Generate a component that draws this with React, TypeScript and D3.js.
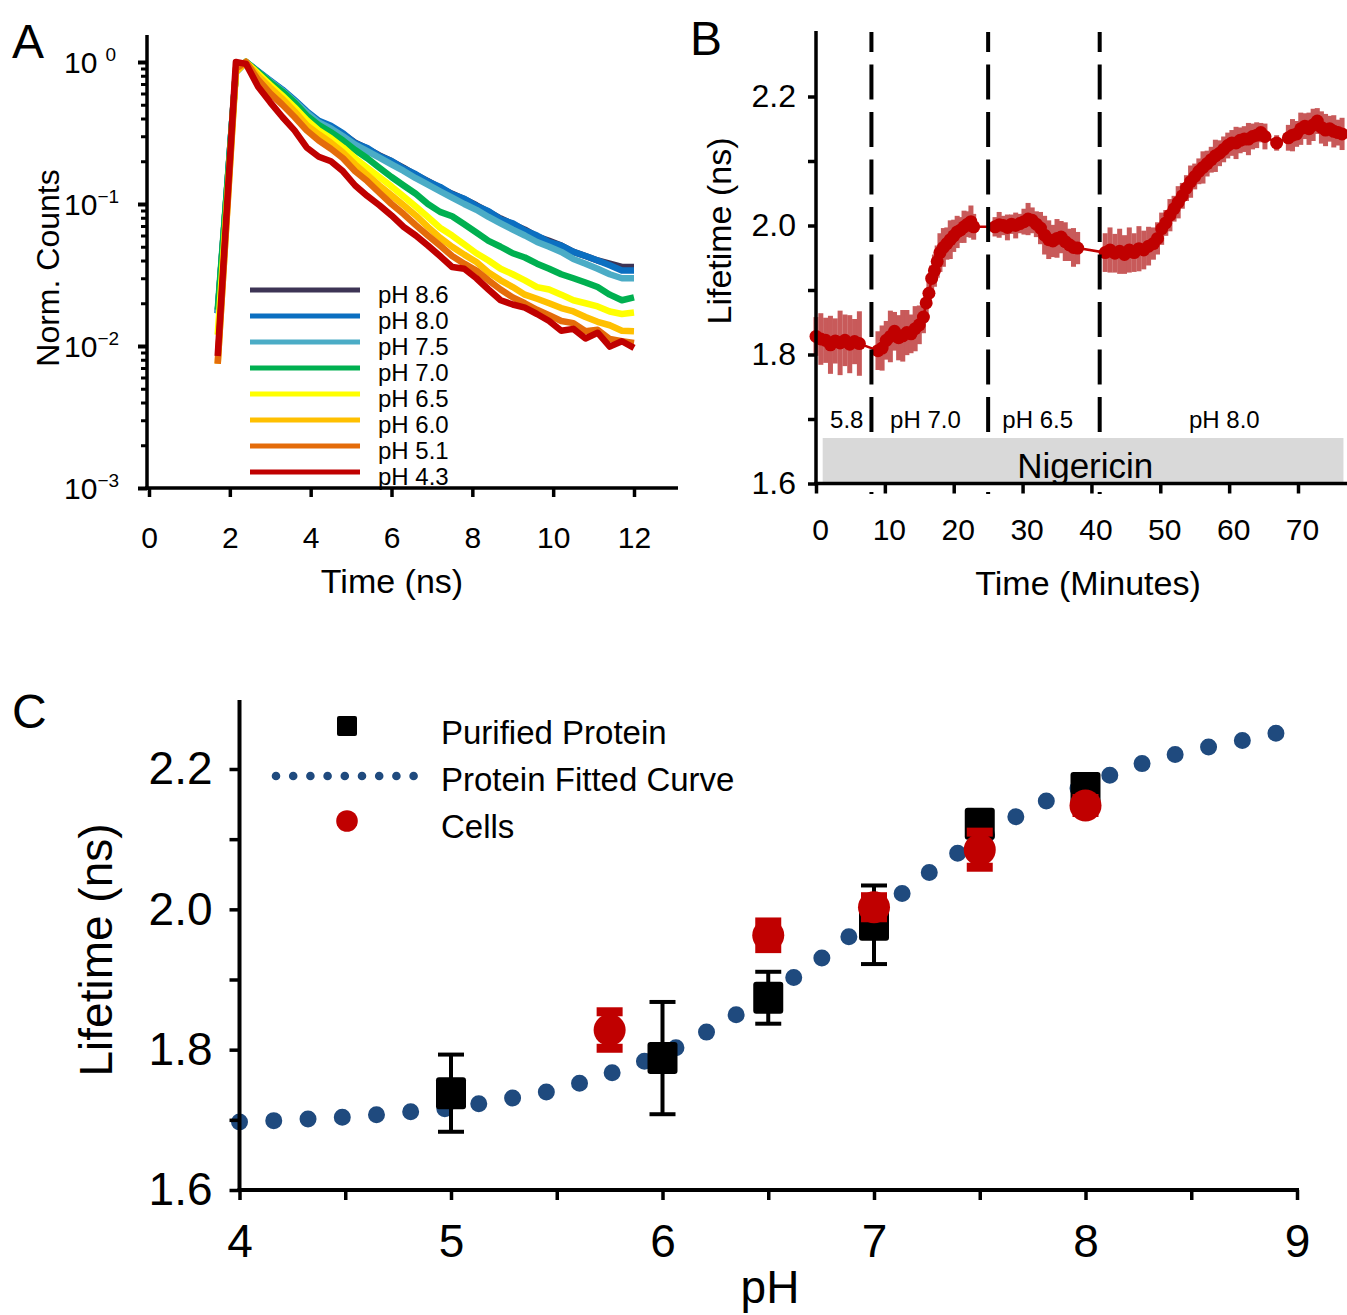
import React, { useEffect, useRef } from 'react';
import * as d3 from 'd3';

const FONT = "'Liberation Sans', Arial, Helvetica, sans-serif";

// ---------- Panel A: normalised decay curves ----------
const decayTimes = [1.7, 2.15, 2.4, 2.7, 3.0, 3.3, 3.6, 3.9, 4.2, 4.5, 4.8, 5.1, 5.4, 5.7, 6.0, 6.3, 6.6, 6.9, 7.2, 7.5, 7.8, 8.1, 8.4, 8.7, 9.0, 9.3, 9.6, 9.9, 10.2, 10.5, 10.8, 11.1, 11.4, 11.7, 12.0];
const decayPH86 = [0.017, 0.85, 1.0, 0.85, 0.73, 0.63, 0.53, 0.44, 0.38, 0.35, 0.31, 0.27, 0.245, 0.22, 0.20, 0.18, 0.16, 0.145, 0.13, 0.118, 0.108, 0.098, 0.088, 0.079, 0.072, 0.066, 0.059, 0.055, 0.051, 0.046, 0.043, 0.040, 0.038, 0.036, 0.036];
const decayPH80 = [0.017, 0.85, 1.0, 0.86, 0.74, 0.64, 0.54, 0.45, 0.385, 0.355, 0.315, 0.268, 0.248, 0.218, 0.201, 0.178, 0.162, 0.144, 0.132, 0.117, 0.109, 0.097, 0.089, 0.078, 0.073, 0.065, 0.060, 0.054, 0.051, 0.046, 0.043, 0.040, 0.037, 0.034, 0.034];
const decayPH75 = [0.017, 0.85, 1.0, 0.85, 0.73, 0.63, 0.53, 0.44, 0.375, 0.34, 0.30, 0.262, 0.236, 0.212, 0.19, 0.171, 0.152, 0.137, 0.123, 0.111, 0.100, 0.091, 0.081, 0.073, 0.066, 0.060, 0.054, 0.050, 0.046, 0.041, 0.038, 0.035, 0.032, 0.030, 0.030];
const decayPH70 = [0.018, 0.85, 1.0, 0.85, 0.72, 0.62, 0.52, 0.42, 0.36, 0.32, 0.28, 0.24, 0.21, 0.18, 0.155, 0.135, 0.118, 0.10, 0.088, 0.082, 0.072, 0.063, 0.055, 0.050, 0.045, 0.042, 0.038, 0.035, 0.032, 0.030, 0.028, 0.026, 0.023, 0.021, 0.022];
const decayPH65 = [0.012, 0.85, 1.0, 0.83, 0.69, 0.58, 0.48, 0.39, 0.33, 0.29, 0.25, 0.21, 0.18, 0.155, 0.133, 0.113, 0.096, 0.081, 0.068, 0.060, 0.052, 0.045, 0.040, 0.035, 0.032, 0.029, 0.026, 0.025, 0.023, 0.021, 0.020, 0.019, 0.0175, 0.0168, 0.0172];
const decayPH60 = [0.0075, 0.85, 1.0, 0.80, 0.66, 0.55, 0.45, 0.36, 0.31, 0.27, 0.23, 0.19, 0.16, 0.135, 0.115, 0.098, 0.083, 0.069, 0.058, 0.050, 0.044, 0.039, 0.033, 0.029, 0.026, 0.023, 0.0215, 0.020, 0.0185, 0.0175, 0.016, 0.0148, 0.014, 0.0128, 0.0127];
const decayPH51 = [0.0075, 0.9, 1.0, 0.75, 0.60, 0.50, 0.41, 0.33, 0.28, 0.245, 0.21, 0.17, 0.145, 0.12, 0.10, 0.085, 0.071, 0.060, 0.051, 0.043, 0.038, 0.034, 0.029, 0.025, 0.022, 0.020, 0.018, 0.0165, 0.0150, 0.0145, 0.0127, 0.013, 0.0112, 0.0108, 0.0105];
const decayPH43 = [0.0085, 1.0, 0.97, 0.67, 0.52, 0.41, 0.33, 0.25, 0.215, 0.20, 0.17, 0.135, 0.114, 0.098, 0.083, 0.069, 0.060, 0.051, 0.043, 0.036, 0.035, 0.030, 0.025, 0.021, 0.0196, 0.0186, 0.0168, 0.0150, 0.0128, 0.0132, 0.0113, 0.0124, 0.0099, 0.0108, 0.0097];
const decaySeries = [decayPH86, decayPH80, decayPH75, decayPH70, decayPH65, decayPH60, decayPH51, decayPH43];
const decayLabels = ['pH 8.6', 'pH 8.0', 'pH 7.5', 'pH 7.0', 'pH 6.5', 'pH 6.0', 'pH 5.1', 'pH 4.3'];
const decayColors = ['#3d3455', '#0b6fc1', '#4bacc6', '#00b050', '#ffff00', '#ffc000', '#e46c0a', '#c00000'];
const decayXTicks = [0, 2, 4, 6, 8, 10, 12];
const decayYMajor = [1, 0.1, 0.01, 0.001];
const decayYExp = ['0', '\u22121', '\u22122', '\u22123'];

// ---------- Panel B: lifetime vs time with nigericin ----------
const nigTime = [
  0, 0.7, 1.4, 2.1, 2.8, 3.5, 4.2, 4.9, 5.6, 6.3,
  9.0, 9.6, 10.2, 10.8, 11.4, 12.0, 12.6, 13.2, 13.8, 14.4, 15.0, 15.6, 16.0, 16.4, 16.8, 17.2, 17.6, 18.0, 18.5, 19.0, 19.5, 20.0, 20.5, 21.0, 21.5, 22.0, 22.5, 22.9,
  26.0, 26.6, 27.2, 27.8, 28.4, 29.0, 29.6, 30.2, 30.8, 31.4, 32.0, 32.6, 33.2, 33.8, 34.4, 35.0, 35.6, 36.2, 36.8, 37.4, 38.0,
  42.0, 42.7, 43.4, 44.1, 44.8, 45.5, 46.2, 46.9, 47.6, 48.3, 49.0, 49.6, 50.2, 50.8, 51.4, 52.0, 52.6, 53.2, 53.8, 54.4, 55.0, 55.6, 56.2, 56.8, 57.4, 58.0, 58.6, 59.2, 59.8, 60.4, 61.0, 61.6, 62.2, 62.8, 63.4, 64.0, 64.6, 65.2,
  66.9,
  68.6, 69.2, 69.8, 70.4, 71.0, 71.6, 72.2, 72.8, 73.4, 74.0, 74.6, 75.2, 75.8, 76.4,
];
const nigLifetime = [
  1.828, 1.824, 1.822, 1.815, 1.821, 1.818, 1.822, 1.816, 1.820, 1.817,
  1.806, 1.810, 1.822, 1.828, 1.836, 1.826, 1.829, 1.834, 1.832, 1.840, 1.846, 1.858, 1.880, 1.895, 1.918, 1.930, 1.944, 1.958, 1.966, 1.972, 1.978, 1.984, 1.990, 1.993, 1.998, 2.002, 2.006, 1.998,
  1.998, 2.001, 2.000, 1.997, 2.002, 2.000, 2.003, 2.006, 2.010, 2.008, 2.002, 1.996, 1.985, 1.978, 1.976, 1.980, 1.982, 1.975, 1.970, 1.966, 1.965,
  1.958, 1.962, 1.957, 1.960, 1.955, 1.962, 1.958, 1.964, 1.962, 1.968, 1.972, 1.980, 1.995, 2.004, 2.016, 2.026, 2.036, 2.046, 2.058, 2.068, 2.076, 2.084, 2.090, 2.096, 2.102, 2.108, 2.112, 2.118, 2.124, 2.128, 2.128, 2.132, 2.134, 2.134, 2.138, 2.140, 2.144, 2.138,
  2.128,
  2.136, 2.140, 2.142, 2.150, 2.154, 2.150, 2.156, 2.162, 2.152, 2.148, 2.150, 2.146, 2.144, 2.142,
];
const nigError = [
  0.030, 0.040, 0.035, 0.045, 0.035, 0.050, 0.040, 0.045, 0.035, 0.050,
  0.030, 0.035, 0.030, 0.040, 0.030, 0.035, 0.040, 0.035, 0.030, 0.035, 0.030, 0.025, 0.020, 0.020, 0.020, 0.025, 0.025, 0.030, 0.030, 0.025, 0.030, 0.025, 0.025, 0.020, 0.025, 0.020, 0.025, 0.020,
  0.015, 0.020, 0.015, 0.020, 0.015, 0.020, 0.015, 0.020, 0.025, 0.020, 0.020, 0.025, 0.030, 0.030, 0.025, 0.030, 0.025, 0.030, 0.025, 0.030, 0.025,
  0.030, 0.035, 0.030, 0.035, 0.030, 0.035, 0.030, 0.035, 0.030, 0.030, 0.025, 0.025, 0.025, 0.020, 0.025, 0.020, 0.025, 0.020, 0.020, 0.025, 0.020, 0.020, 0.025, 0.020, 0.020, 0.025, 0.020, 0.020, 0.020, 0.020, 0.025, 0.020, 0.020, 0.025, 0.020, 0.020, 0.015, 0.020,
  0.012,
  0.020, 0.025, 0.020, 0.025, 0.020, 0.025, 0.025, 0.020, 0.025, 0.025, 0.020, 0.025, 0.020, 0.025,
];
const nigChangeTimes = [8.05, 25.0, 41.2];
const nigPhaseLabels = ['5.8', 'pH 7.0', 'pH 6.5', 'pH 8.0'];
const nigPhaseCenters = [4.47, 15.9, 32.2, 59.3];
const nigBarStart = 0.97;
const nigBarEnd = 76.6;
const nigXTicks = [0, 10, 20, 30, 40, 50, 60, 70];
const nigYTicks = [1.6, 1.7, 1.8, 1.9, 2.0, 2.1, 2.2];
const nigYLabelled = [1.6, 1.8, 2.0, 2.2];

// ---------- Panel C: lifetime vs pH ----------
const fitPH = [4.0, 4.25, 4.5, 4.75, 5.0, 5.25, 5.5, 5.75, 6.0, 6.25, 6.5, 6.75, 7.0, 7.25, 7.5, 7.75, 8.0, 8.25, 8.5, 8.75, 8.93];
const fitLifetime = [1.697, 1.700, 1.704, 1.710, 1.717, 1.729, 1.743, 1.766, 1.794, 1.832, 1.879, 1.930, 1.990, 2.050, 2.100, 2.145, 2.177, 2.206, 2.226, 2.241, 2.253];
const proteinPH = [5, 6, 6.5, 7, 7.5, 8];
const proteinLifetime = [1.738, 1.788, 1.874, 1.978, 2.122, 2.173];
const proteinError = [0.055, 0.080, 0.037, 0.056, 0.012, 0.010];
const cellsPH = [5.75, 6.5, 7, 7.5, 8];
const cellsLifetime = [1.828, 1.963, 2.003, 2.085, 2.148];
const cellsError = [0.026, 0.019, 0.015, 0.025, 0.010];
const phXTicks = [4, 4.5, 5, 5.5, 6, 6.5, 7, 7.5, 8, 8.5, 9];
const phXLabelled = [4, 5, 6, 7, 8, 9];
const phYTicks = [1.6, 1.7, 1.8, 1.9, 2.0, 2.1, 2.2];
const phYLabelled = [1.6, 1.8, 2.0, 2.2];
const legendC = ['Purified Protein', 'Protein Fitted Curve', 'Cells'];

type Sel = d3.Selection<SVGGElement, unknown, null, undefined>;

function styleAxis(g: Sel, fontSize: number, strokeW: number) {
  g.select('.domain').remove();
  g.selectAll('.tick line').attr('stroke', '#000').attr('stroke-width', strokeW);
  g.selectAll('.tick text')
    .attr('font-family', FONT)
    .attr('font-size', fontSize)
    .attr('fill', '#000');
}

function addText(g: Sel, x: number, y: number, txt: string, size: number, anchor = 'start', rotate = false) {
  const t = g.append('text')
    .attr('font-family', FONT)
    .attr('font-size', size)
    .attr('fill', '#000')
    .attr('text-anchor', anchor)
    .text(txt);
  if (rotate) t.attr('transform', `translate(${x},${y}) rotate(-90)`);
  else t.attr('x', x).attr('y', y);
  return t;
}

function drawPanelA(g: Sel) {
  const xA = d3.scaleLinear().domain([0, 12]).range([149, 634]);
  const yA = d3.scaleLog().domain([0.001, 1]).range([488, 62]);

  const line = d3.line<number>()
    .x((_, i) => xA(decayTimes[i]))
    .y(d => yA(d));

  decaySeries.forEach((s, k) => {
    g.append('path')
      .datum(s)
      .attr('d', line)
      .attr('fill', 'none')
      .attr('stroke', decayColors[k])
      .attr('stroke-width', 6.5)
      .attr('stroke-linejoin', 'round');
  });

  // legend
  decayLabels.forEach((lab, k) => {
    const y = 290 + k * 26;
    g.append('line')
      .attr('x1', 250).attr('x2', 360).attr('y1', y).attr('y2', y)
      .attr('stroke', decayColors[k]).attr('stroke-width', 5);
    addText(g, 378, y + 13, lab, 24);
  });

  // axes
  const minor: number[] = [];
  [0.001, 0.01, 0.1].forEach(d => { for (let k = 2; k <= 9; k++) minor.push(d * k); });
  const gMinor = g.append('g').attr('transform', 'translate(147,0)')
    .call(d3.axisLeft(yA).tickValues(minor).tickSize(6).tickFormat(() => ''));
  styleAxis(gMinor, 10, 3);
  const gMajor = g.append('g').attr('transform', 'translate(147,0)')
    .call(d3.axisLeft(yA).tickValues(decayYMajor).tickSize(9).tickFormat(() => ''));
  styleAxis(gMajor, 10, 4);

  const gx = g.append('g').attr('transform', 'translate(0,488)')
    .call(d3.axisBottom(xA).tickValues(decayXTicks).tickSize(9).tickPadding(30).tickFormat(d3.format('d')));
  styleAxis(gx, 30, 3.5);

  g.append('line').attr('x1', 147).attr('x2', 147).attr('y1', 35).attr('y2', 490)
    .attr('stroke', '#000').attr('stroke-width', 3.5);
  g.append('line').attr('x1', 145).attr('x2', 678).attr('y1', 488).attr('y2', 488)
    .attr('stroke', '#000').attr('stroke-width', 3.5);

  decayYMajor.forEach((v, i) => {
    const t = g.append('text')
      .attr('x', 64).attr('y', yA(v) + 11)
      .attr('font-family', FONT).attr('font-size', 30).attr('fill', '#000');
    t.append('tspan').text('10');
    t.append('tspan')
      .attr('dx', decayYExp[i] === '0' ? 8 : 0)
      .attr('dy', -12)
      .attr('font-size', 19)
      .text(decayYExp[i]);
  });

  addText(g, 392, 593, 'Time (ns)', 34, 'middle');
  addText(g, 59, 268, 'Norm. Counts', 32, 'middle', true);
  addText(g, 12, 58, 'A', 48);
}

function drawPanelB(g: Sel) {
  const xB = d3.scaleLinear().domain([0, 70]).range([816, 1298]);
  const yB = d3.scaleLinear().domain([1.6, 2.2]).range([483.5, 96.5]);

  // error bars
  g.append('g').selectAll('line')
    .data(nigTime)
    .join('line')
    .attr('x1', d => xB(d)).attr('x2', d => xB(d))
    .attr('y1', (_, i) => yB(nigLifetime[i] - nigError[i]))
    .attr('y2', (_, i) => yB(nigLifetime[i] + nigError[i]))
    .attr('stroke', '#c85a5a')
    .attr('stroke-width', 5);

  const line = d3.line<number>()
    .x(d => xB(d))
    .y((_, i) => yB(nigLifetime[i]));
  g.append('path').datum(nigTime).attr('d', line)
    .attr('fill', 'none').attr('stroke', '#c00000').attr('stroke-width', 2.5);

  g.append('g').selectAll('circle')
    .data(nigTime)
    .join('circle')
    .attr('cx', d => xB(d))
    .attr('cy', (_, i) => yB(nigLifetime[i]))
    .attr('r', 6.5)
    .attr('fill', '#c00000');

  // solution change markers
  nigChangeTimes.forEach(t => {
    g.append('line')
      .attr('x1', xB(t)).attr('x2', xB(t)).attr('y1', 32).attr('y2', 494)
      .attr('stroke', '#000').attr('stroke-width', 4)
      .attr('stroke-dasharray', '35 12.5').attr('stroke-dashoffset', 15);
  });

  g.append('rect')
    .attr('x', xB(nigBarStart)).attr('y', 438)
    .attr('width', xB(nigBarEnd) - xB(nigBarStart)).attr('height', 44)
    .attr('fill', '#d9d9d9');
  addText(g, xB(39.1), 478, 'Nigericin', 35, 'middle');

  nigPhaseLabels.forEach((lab, i) => addText(g, xB(nigPhaseCenters[i]), 428, lab, 24, 'middle'));

  const gy = g.append('g').attr('transform', 'translate(816,0)')
    .call(d3.axisLeft(yB).tickValues(nigYTicks).tickSize(8).tickPadding(12)
      .tickFormat(d => (nigYLabelled.some(v => Math.abs(v - (d as number)) < 1e-6) ? (d as number).toFixed(1) : '')));
  styleAxis(gy, 32, 3.5);

  const gx = g.append('g').attr('transform', 'translate(0,483.5)')
    .call(d3.axisBottom(xB).tickValues(nigXTicks).tickSize(10).tickPadding(25).tickFormat(d3.format('d')));
  styleAxis(gx, 30, 3.5);
  gx.selectAll('.tick text').attr('dx', 4);

  g.append('line').attr('x1', 816).attr('x2', 816).attr('y1', 31).attr('y2', 485)
    .attr('stroke', '#000').attr('stroke-width', 3.5);
  g.append('line').attr('x1', 814).attr('x2', 1347).attr('y1', 483.5).attr('y2', 483.5)
    .attr('stroke', '#000').attr('stroke-width', 3.5);

  addText(g, 1088, 595, 'Time (Minutes)', 34, 'middle');
  addText(g, 731, 231, 'Lifetime (ns)', 34, 'middle', true);
  addText(g, 690, 55, 'B', 48);
}

function drawPanelC(g: Sel) {
  const xC = d3.scaleLinear().domain([4, 9]).range([239.5, 1297]);
  const yC = d3.scaleLinear().domain([1.6, 2.2]).range([1190, 769]);
  const blue = '#1f4a7e';
  const red = '#c00000';

  // fitted curve, drawn as a round-dotted line
  const fitLine = d3.line<number>()
    .x(d => xC(d))
    .y((_, i) => yC(fitLifetime[i]))
    .curve(d3.curveCatmullRom);
  g.append('path').datum(fitPH).attr('d', fitLine)
    .attr('fill', 'none').attr('stroke', blue).attr('stroke-width', 17)
    .attr('stroke-linecap', 'round').attr('stroke-dasharray', '0 34.3');

  // purified protein
  const gp = g.append('g');
  proteinPH.forEach((p, i) => {
    const x = xC(p);
    const lo = yC(proteinLifetime[i] - proteinError[i]);
    const hi = yC(proteinLifetime[i] + proteinError[i]);
    gp.append('line').attr('x1', x).attr('x2', x).attr('y1', lo).attr('y2', hi)
      .attr('stroke', '#000').attr('stroke-width', 4);
    [lo, hi].forEach(y => gp.append('line').attr('x1', x - 13).attr('x2', x + 13).attr('y1', y).attr('y2', y)
      .attr('stroke', '#000').attr('stroke-width', 4));
    gp.append('rect').attr('x', x - 15).attr('y', yC(proteinLifetime[i]) - 16)
      .attr('width', 30).attr('height', 32).attr('rx', 3).attr('fill', '#000');
  });

  // cells
  const gc = g.append('g');
  cellsPH.forEach((p, i) => {
    const x = xC(p);
    const lo = yC(cellsLifetime[i] - cellsError[i]);
    const hi = yC(cellsLifetime[i] + cellsError[i]);
    gc.append('line').attr('x1', x).attr('x2', x).attr('y1', lo).attr('y2', hi)
      .attr('stroke', red).attr('stroke-width', 6);
    [lo, hi].forEach(y => gc.append('line').attr('x1', x - 13).attr('x2', x + 13).attr('y1', y).attr('y2', y)
      .attr('stroke', red).attr('stroke-width', 9));
    gc.append('circle').attr('cx', x).attr('cy', yC(cellsLifetime[i])).attr('r', 16).attr('fill', red);
  });

  // legend
  g.append('rect').attr('x', 337).attr('y', 716).attr('width', 20).attr('height', 20).attr('rx', 2).attr('fill', '#000');
  g.append('line').attr('x1', 276).attr('x2', 414).attr('y1', 776).attr('y2', 776)
    .attr('stroke', blue).attr('stroke-width', 8.6).attr('stroke-linecap', 'round').attr('stroke-dasharray', '0 17.2');
  g.append('circle').attr('cx', 347).attr('cy', 821).attr('r', 10.8).attr('fill', red);
  legendC.forEach((lab, i) => addText(g, 441, 744 + i * 47, lab, 33));

  // axes
  const gy = g.append('g').attr('transform', 'translate(239.5,0)')
    .call(d3.axisLeft(yC).tickValues(phYTicks).tickSize(10).tickPadding(17)
      .tickFormat(d => (phYLabelled.some(v => Math.abs(v - (d as number)) < 1e-6) ? (d as number).toFixed(1) : '')));
  styleAxis(gy, 46, 3.5);
  const gx = g.append('g').attr('transform', 'translate(0,1190)')
    .call(d3.axisBottom(xC).tickValues(phXTicks).tickSize(10).tickPadding(24)
      .tickFormat(d => (phXLabelled.includes(d as number) ? d3.format('d')(d as number) : '')));
  styleAxis(gx, 46, 3.5);

  g.append('line').attr('x1', 239.5).attr('x2', 239.5).attr('y1', 700).attr('y2', 1192)
    .attr('stroke', '#000').attr('stroke-width', 4);
  g.append('line').attr('x1', 237.5).attr('x2', 1299).attr('y1', 1190).attr('y2', 1190)
    .attr('stroke', '#000').attr('stroke-width', 4);

  addText(g, 770, 1303, 'pH', 46, 'middle');
  addText(g, 112, 950, 'Lifetime (ns)', 46, 'middle', true);
  addText(g, 12, 728, 'C', 48);
}

export default function App() {
  const ref = useRef<SVGSVGElement | null>(null);

  useEffect(() => {
    const svg = d3.select(ref.current);
    svg.selectAll('*').remove();
    const root = svg.append('g') as unknown as Sel;
    drawPanelA(root.append('g'));
    drawPanelB(root.append('g'));
    drawPanelC(root.append('g'));
  }, []);

  return (
    <div style={{ position: 'absolute', left: 0, top: 0 }}>
      <svg ref={ref} width={1347} height={1315} style={{ display: 'block', background: '#fff' }} />
    </div>
  );
}
